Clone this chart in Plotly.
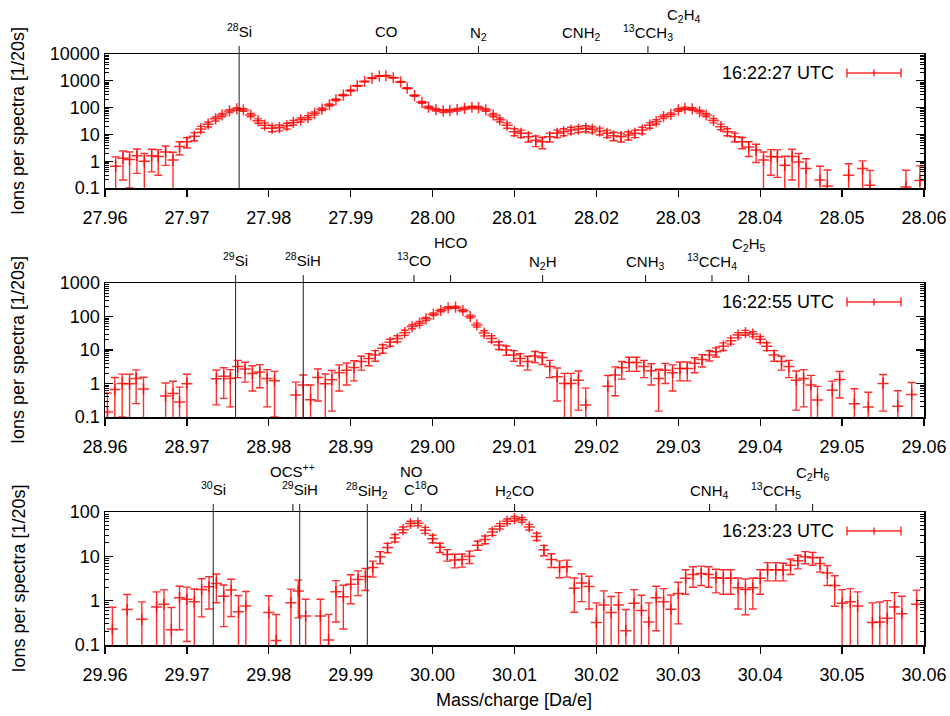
import plotly.graph_objects as go

# ---------------- data ----------------
series_names = ["16:22:27 UTC", "16:22:55 UTC", "16:23:23 UTC"]

# Panel 1: around m/q 28
mass_1 = [27.9613, 27.9622, 27.9630, 27.9639, 27.9648, 27.9657, 27.9665, 27.9674, 27.9683, 27.9691,
          27.9700, 27.9709, 27.9717, 27.9726, 27.9735, 27.9743, 27.9752, 27.9761, 27.9769, 27.9778,
          27.9787, 27.9795, 27.9804, 27.9813, 27.9822, 27.9830, 27.9839, 27.9848, 27.9856, 27.9865,
          27.9874, 27.9882, 27.9891, 27.9900, 27.9908, 27.9917, 27.9926, 27.9935, 27.9943, 27.9952,
          27.9961, 27.9969, 27.9978, 27.9987, 27.9995, 28.0004, 28.0013, 28.0021, 28.0030, 28.0039,
          28.0048, 28.0056, 28.0065, 28.0074, 28.0082, 28.0091, 28.0100, 28.0108, 28.0117, 28.0126,
          28.0134, 28.0143, 28.0152, 28.0160, 28.0169, 28.0178, 28.0187, 28.0195, 28.0204, 28.0213,
          28.0221, 28.0230, 28.0239, 28.0247, 28.0256, 28.0265, 28.0273, 28.0282, 28.0291, 28.0300,
          28.0308, 28.0317, 28.0326, 28.0334, 28.0343, 28.0352, 28.0360, 28.0369, 28.0378, 28.0386,
          28.0395, 28.0404, 28.0413, 28.0421, 28.0430, 28.0439, 28.0447, 28.0456, 28.0473, 28.0482,
          28.0508, 28.0525, 28.0534, 28.0578, 28.0595]
ions_1 = [0.65, 1.3, 1.15, 1.6, 1.0, 1.6, 1.5, 2.2, 1.1, 3.5,
          5.3, 8.6, 16, 24, 38, 53, 75, 89, 82, 53,
          32, 22, 17, 18, 21, 28, 35, 43, 61, 87,
          126, 195, 290, 435, 650, 940, 1260, 1500, 1540, 1300,
          910, 530, 280, 158, 103, 84, 75, 77, 84, 94,
          103, 100, 82, 53, 35, 22, 12.6, 11, 8.2, 6.1,
          5.3, 8.2, 11, 12.6, 14.5, 15.8, 16.8, 15.4, 13.3, 11,
          8.9, 8.2, 9.4, 11, 14.5, 22, 30, 46, 56, 82,
          94, 89, 71, 53, 33, 19.5, 12.6, 8.2, 5.3, 3.4,
          2.6, 1.1, 1.5, 1.45, 0.7, 1.5, 0.94, 0.53, 0.2, 0.12,
          0.3, 0.53, 0.126, 0.11, 0.19]
err_1 = [0.8, 1.1, 1.05, 1.25, 0.95, 1.2, 1.2, 1.5, 1.05, 1.8,
         2.2, 2.8, 4, 5, 6.5, 7.5, 9, 10, 9.5, 7.5,
         6, 5, 4.5, 4.5, 5, 5.5, 6, 7, 8, 9.5,
         11, 14, 17, 21, 26, 31, 36, 39, 39, 36,
         30, 23, 17, 13, 10, 9, 9, 9, 9, 10,
         10, 10, 9, 7.5, 6, 5, 3.7, 3.4, 3, 2.6,
         2.4, 3, 3.4, 3.7, 4, 4, 4.2, 4, 3.8, 3.4,
         3.1, 3, 3.2, 3.4, 4, 5, 5.7, 7, 7.8, 9.3,
         10, 9.7, 8.6, 7.5, 6, 4.6, 3.7, 3, 2.4, 1.9,
         1.7, 1.1, 1.2, 1.2, 0.85, 1.3, 1.0, 0.7, 0.45, 0.35,
         0.5, 0.5, 0.33, 0.35, 0.48]

# Panel 2: around m/q 29
mass_2 = [28.9603, 28.9612, 28.9621, 28.9630, 28.9638, 28.9647, 28.9674, 28.9683, 28.9691, 28.9700,
          28.9736, 28.9745, 28.9753, 28.9762, 28.9771, 28.9780, 28.9789, 28.9798, 28.9807, 28.9833,
          28.9842, 28.9851, 28.9860, 28.9869, 28.9877, 28.9886, 28.9895, 28.9904, 28.9913, 28.9922,
          28.9930, 28.9939, 28.9948, 28.9957, 28.9966, 28.9975, 28.9984, 28.9992, 29.0001, 29.0010,
          29.0019, 29.0028, 29.0037, 29.0046, 29.0054, 29.0063, 29.0072, 29.0081, 29.0090, 29.0099,
          29.0107, 29.0116, 29.0125, 29.0134, 29.0143, 29.0152, 29.0161, 29.0169, 29.0178, 29.0187,
          29.0214, 29.0223, 29.0231, 29.0240, 29.0249, 29.0258, 29.0267, 29.0276, 29.0284, 29.0293,
          29.0302, 29.0311, 29.0320, 29.0329, 29.0338, 29.0346, 29.0355, 29.0364, 29.0373, 29.0382,
          29.0391, 29.0400, 29.0408, 29.0417, 29.0426, 29.0435, 29.0444, 29.0453, 29.0462, 29.0470,
          29.0488, 29.0497, 29.0515, 29.0532, 29.0550, 29.0568, 29.0585]
ions_2 = [0.14, 0.66, 1.0, 0.98, 1.4, 0.68, 0.42, 0.5, 0.28, 0.98,
          1.38, 1.66, 1.4, 3.2, 2.7, 2.0, 2.2, 1.4, 1.2, 0.45,
          0.9, 0.33, 1.5, 0.98, 1.3, 2.1, 2.5, 3.0, 4.5, 5.6,
          7.1, 11.2, 17, 22, 33, 50, 63, 85, 117, 151,
          182, 190, 151, 100, 56, 32, 22, 14, 10, 7.1,
          5.6, 4.5, 6.6, 6.0, 3.2, 1.6, 1.0, 1.0, 1.26, 0.23,
          0.83, 1.78, 2.95, 4.2, 4.2, 3.2, 2.4, 1.4, 2.5, 2.1,
          2.8, 2.8, 4.0, 5.2, 7.1, 8.9, 13, 19, 28, 33,
          30, 21, 13, 7.1, 4.5, 3.2, 1.26, 1.4, 0.9, 0.32,
          0.63, 1.32, 0.25, 0.2, 1.0, 0.21, 0.47]
err_2 = [0.38, 0.85, 0.9, 0.9, 1.15, 0.85, 0.62, 0.67, 0.5, 0.9,
         1.15, 1.3, 1.2, 1.7, 1.6, 1.4, 1.45, 1.2, 1.1, 0.65,
         0.9, 0.57, 1.2, 0.95, 1.15, 1.5, 1.6, 1.8, 2.0, 2.2,
         2.5, 3.2, 4, 4.7, 5.7, 7, 8, 9, 11, 12,
         13, 14, 12, 10, 7.5, 5.6, 4.7, 3.7, 3.1, 2.5,
         2.2, 2.0, 2.4, 2.3, 1.7, 1.3, 1.0, 1.0, 1.1, 0.5,
         0.9, 1.35, 1.6, 1.9, 1.9, 1.7, 1.5, 1.25, 1.5, 1.5,
         1.6, 1.6, 1.9, 2.1, 2.4, 2.7, 3.3, 4, 5, 5.5,
         5.3, 4.4, 3.4, 2.5, 2.0, 1.7, 1.1, 1.2, 0.85, 0.5,
         0.55, 0.95, 0.45, 0.35, 0.85, 0.4, 0.6]

# Panel 3: around m/q 30
mass_3 = [29.9609, 29.9627, 29.9645, 29.9663, 29.9672, 29.9681, 29.9691, 29.9700, 29.9709, 29.9718,
          29.9727, 29.9736, 29.9745, 29.9754, 29.9763, 29.9772, 29.9800, 29.9809, 29.9827, 29.9836,
          29.9845, 29.9863, 29.9873, 29.9882, 29.9891, 29.9900, 29.9909, 29.9918, 29.9927, 29.9936,
          29.9945, 29.9954, 29.9964, 29.9973, 29.9982, 29.9991, 30.0000, 30.0009, 30.0018, 30.0027,
          30.0036, 30.0045, 30.0055, 30.0064, 30.0073, 30.0082, 30.0091, 30.0100, 30.0109, 30.0118,
          30.0127, 30.0136, 30.0145, 30.0155, 30.0164, 30.0173, 30.0182, 30.0191, 30.0200, 30.0209,
          30.0218, 30.0227, 30.0236, 30.0246, 30.0255, 30.0264, 30.0273, 30.0282, 30.0291, 30.0300,
          30.0309, 30.0318, 30.0328, 30.0337, 30.0346, 30.0355, 30.0364, 30.0373, 30.0382, 30.0391,
          30.0400, 30.0409, 30.0419, 30.0428, 30.0437, 30.0446, 30.0455, 30.0464, 30.0473, 30.0482,
          30.0491, 30.0500, 30.0510, 30.0519, 30.0537, 30.0546, 30.0555, 30.0564, 30.0573, 30.0591]
ions_3 = [0.23, 0.63, 0.38, 0.72, 0.83, 0.22, 1.17, 1.07, 0.94, 1.78,
          2.05, 2.45, 1.26, 1.74, 0.56, 0.76, 0.54, 0.126, 0.9, 1.66,
          0.45, 0.45, 0.13, 1.58, 1.23, 2.35, 3.0, 3.5, 5.6, 9.8,
          15.8, 26, 40, 55, 56, 39, 25, 16, 11, 8.3,
          8.5, 10, 17.8, 24, 35.5, 48, 62, 71, 67, 46,
          28, 14, 8.5, 5.6, 5.8, 1.9, 2.5, 2.1, 0.32, 0.8,
          0.54, 0.8, 0.21, 0.87, 0.6, 0.33, 1.16, 0.94, 0.64, 1.45,
          3.2, 3.9, 4.1, 3.9, 3.3, 3.2, 3.2, 1.95, 1.78, 1.95,
          3.2, 5.0, 5.0, 4.9, 6.3, 7.9, 9.8, 9.3, 6.9, 4.2,
          2.2, 0.87, 0.94, 0.76, 0.32, 0.33, 0.4, 0.72, 0.51, 0.83]
err_3 = [0.48, 0.75, 0.56, 0.86, 0.92, 0.48, 0.95, 0.95, 0.9, 1.35,
         1.4, 1.55, 1.0, 1.3, 0.75, 0.85, 0.75, 0.36, 0.92, 1.25,
         0.63, 0.63, 0.36, 1.25, 1.0, 1.5, 1.7, 1.8, 2.2, 3.0,
         3.8, 5, 6, 7, 7, 6, 4.8, 3.8, 3.2, 2.8,
         2.8, 3.1, 4.1, 4.8, 5.8, 6.8, 7.7, 8.3, 8.1, 6.7,
         5.2, 3.7, 2.9, 2.3, 2.4, 1.35, 1.55, 1.45, 0.57, 0.86,
         0.7, 0.72, 0.42, 0.9, 0.73, 0.56, 0.95, 0.93, 0.7, 1.15,
         1.8, 1.9, 1.9, 1.9, 1.8, 1.8, 1.8, 1.3, 1.3, 1.3,
         1.8, 2.2, 2.2, 2.1, 2.4, 2.7, 3.0, 3.0, 2.5, 2.0,
         1.45, 0.9, 0.93, 0.82, 0.57, 0.6, 0.6, 0.8, 0.75, 0.9]

# species labels along the top of each panel
species_1 = ["<sup>28</sup>Si", "CO", "N<sub>2</sub>", "CNH<sub>2</sub>", "<sup>13</sup>CCH<sub>3</sub>", "C<sub>2</sub>H<sub>4</sub>"]
species_mass_1 = [27.97638, 27.99437, 28.00560, 28.01818, 28.02629, 28.03075]
species_2 = ["<sup>29</sup>Si", "<sup>28</sup>SiH", "<sup>13</sup>CO", "HCO", "N<sub>2</sub>H", "CNH<sub>3</sub>",
             "<sup>13</sup>CCH<sub>4</sub>", "C<sub>2</sub>H<sub>5</sub>"]
species_mass_2 = [28.97594, 28.98421, 28.99772, 29.00219, 29.01343, 29.02600, 29.03411, 29.03858]
species_3 = ["<sup>30</sup>Si", "OCS<sup>++</sup>", "<sup>29</sup>SiH", "<sup>28</sup>SiH<sub>2</sub>", "NO",
             "C<sup>18</sup>O", "H<sub>2</sub>CO", "CNH<sub>4</sub>", "<sup>13</sup>CCH<sub>5</sub>", "C<sub>2</sub>H<sub>6</sub>"]
species_mass_3 = [29.97322, 29.98294, 29.98377, 29.99203, 29.99743, 29.99861, 30.01001, 30.03382, 30.04193, 30.04640]

x_ticks_1 = [27.96, 27.97, 27.98, 27.99, 28.00, 28.01, 28.02, 28.03, 28.04, 28.05, 28.06]
x_ticklabels_1 = ["27.96", "27.97", "27.98", "27.99", "28.00", "28.01", "28.02", "28.03", "28.04", "28.05", "28.06"]
x_ticks_2 = [28.96, 28.97, 28.98, 28.99, 29.00, 29.01, 29.02, 29.03, 29.04, 29.05, 29.06]
x_ticklabels_2 = ["28.96", "28.97", "28.98", "28.99", "29.00", "29.01", "29.02", "29.03", "29.04", "29.05", "29.06"]
x_ticks_3 = [29.96, 29.97, 29.98, 29.99, 30.00, 30.01, 30.02, 30.03, 30.04, 30.05, 30.06]
x_ticklabels_3 = ["29.96", "29.97", "29.98", "29.99", "30.00", "30.01", "30.02", "30.03", "30.04", "30.05", "30.06"]
y_ticks_1 = [0.1, 1, 10, 100, 1000, 10000]
y_ticklabels_1 = ["0.1", "1", "10", "100", "1000", "10000"]
y_ticks_2 = [0.1, 1, 10, 100, 1000]
y_ticklabels_2 = ["0.1", "1", "10", "100", "1000"]
y_ticks_3 = [0.1, 1, 10, 100]
y_ticklabels_3 = ["0.1", "1", "10", "100"]

x_title = "Mass/charge [Da/e]"
y_title = "Ions per spectra [1/20s]"

# ---------------- style ----------------
W, H = 950, 716
FONT = "Liberation Sans, Arial, Helvetica, sans-serif"
RED = "rgba(255,0,0,0.82)"
LEFT, RIGHT = 105, 924
panel_px = [(54, 188), (283, 417), (512, 645)]   # top, bottom in px
log_ranges = [[-1, 4], [-1, 3], [-1, 2]]
x_ranges = [[27.96, 28.06], [28.96, 29.06], [29.96, 30.06]]
upper_row = {"C<sub>2</sub>H<sub>4</sub>", "HCO", "C<sub>2</sub>H<sub>5</sub>", "OCS<sup>++</sup>", "NO",
             "C<sub>2</sub>H<sub>6</sub>"}
full_line = {"<sup>28</sup>Si", "<sup>29</sup>Si", "<sup>28</sup>SiH", "<sup>30</sup>Si", "<sup>29</sup>SiH",
             "<sup>28</sup>SiH<sub>2</sub>"}

data = [(mass_1, ions_1, err_1, species_1, species_mass_1, x_ticks_1, x_ticklabels_1, y_ticks_1, y_ticklabels_1),
        (mass_2, ions_2, err_2, species_2, species_mass_2, x_ticks_2, x_ticklabels_2, y_ticks_2, y_ticklabels_2),
        (mass_3, ions_3, err_3, species_3, species_mass_3, x_ticks_3, x_ticklabels_3, y_ticks_3, y_ticklabels_3)]

fig = go.Figure()
shapes = []
annotations = []
layout = {}

for k, (mx, yv, ev, sp, spm, xt, xtl, yt, ytl) in enumerate(data):
    n = "" if k == 0 else str(k + 1)
    xa, ya = "x" + n, "y" + n
    top, bot = panel_px[k]
    hpx = bot - top
    ydom = [(H - bot) / H, (H - top) / H]

    fig.add_trace(go.Scatter(
        x=mx, y=yv, mode="markers", xaxis=xa, yaxis=ya, showlegend=False,
        name=series_names[k],
        marker=dict(symbol="cross-thin", size=8, color=RED, line=dict(width=1.5, color=RED)),
        error_y=dict(type="data", array=ev, symmetric=True, color=RED, thickness=1.4, width=4),
    ))

    lo, hi = log_ranges[k]
    minor_vals = [m * 10 ** e for e in range(lo, hi) for m in range(2, 10)]
    layout["xaxis" + n] = dict(
        domain=[LEFT / W, RIGHT / W], anchor=ya, range=x_ranges[k], automargin=False,
        tickmode="array", tickvals=xt, ticktext=xtl,
        ticks="outside", ticklen=7, tickwidth=1.2, tickcolor="black",
        showline=True, linecolor="black", linewidth=1.5, mirror=True,
        showgrid=False, zeroline=False, ticklabelstandoff=6,
        tickfont=dict(size=18, color="black", family=FONT),
    )
    layout["yaxis" + n] = dict(
        domain=ydom, anchor=xa, type="log", range=[lo, hi], automargin=False,
        tickmode="array", tickvals=yt, ticktext=ytl,
        ticks="inside", ticklen=8, tickwidth=1.2, tickcolor="black",
        showline=True, linecolor="black", linewidth=1.5, mirror="allticks",
        showgrid=False, zeroline=False,
        minor=dict(ticks="inside", ticklen=4, tickwidth=1, tickcolor="black",
                   tickmode="array", tickvals=minor_vals, showgrid=False),
        tickfont=dict(size=18, color="black", family=FONT),
    )

    # species ticks / lines and labels
    tick_up = 8 / hpx
    for label, m in zip(sp, spm):
        y0 = 0 if label in full_line else 1
        shapes.append(dict(type="line", xref=xa, yref=ya + " domain", x0=m, x1=m, y0=y0, y1=1 + tick_up,
                           line=dict(color="#222222" if y0 == 1 else "#333333", width=1.1)))
        shift = 31 if label in upper_row else 13
        if "<sub>" in label:
            shift -= 3
        annotations.append(dict(text=label, xref=xa, yref=ya + " domain", x=m, y=1, yshift=shift,
                                xanchor="center", yanchor="bottom", showarrow=False, borderpad=0,
                                font=dict(size=15, color="black", family=FONT)))

    # legend (gnuplot style key)
    ly = 1 - 19 / hpx
    annotations.append(dict(text=series_names[k], xref="paper", yref=ya + " domain", x=836 / W, y=ly,
                            xanchor="right", yanchor="middle", showarrow=False,
                            font=dict(size=18, color="black", family=FONT)))
    cap = 4.5 / hpx
    shapes.append(dict(type="line", xref="paper", yref=ya + " domain", x0=847 / W, x1=901 / W, y0=ly, y1=ly,
                       line=dict(color=RED, width=1.5)))
    for xp, c in ((847, cap), (901, cap), (874, 3.5 / hpx)):
        shapes.append(dict(type="line", xref="paper", yref=ya + " domain", x0=xp / W, x1=xp / W,
                           y0=ly - c, y1=ly + c, line=dict(color=RED, width=1.5)))

    # y-axis title
    annotations.append(dict(text=y_title, xref="paper", yref="paper", x=18 / W,
                            y=(H - (top + bot) / 2) / H, xanchor="center", yanchor="middle",
                            textangle=-90, showarrow=False,
                            font=dict(size=18, color="black", family=FONT)))

annotations.append(dict(text=x_title, xref="paper", yref="paper", x=514 / W, y=(H - 700) / H,
                        xanchor="center", yanchor="middle", showarrow=False,
                        font=dict(size=18, color="black", family=FONT)))

fig.update_layout(
    template="none",
    width=W, height=H, margin=dict(l=0, r=0, t=0, b=0, autoexpand=False),
    paper_bgcolor="white", plot_bgcolor="white",
    font=dict(family=FONT, size=18, color="black"),
    shapes=shapes, annotations=annotations, showlegend=False,
    **layout,
)

fig.write_html("out.html",
               config={"displayModeBar": False, "staticPlot": True},
               post_script="document.body.style.margin='0';document.body.style.overflow='hidden';")
